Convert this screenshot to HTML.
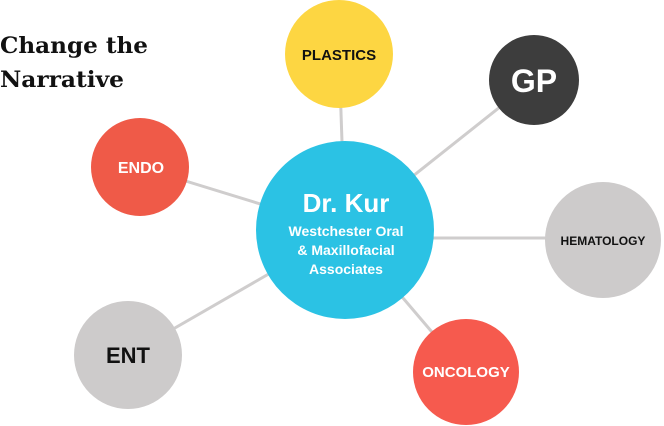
<!DOCTYPE html>
<html><head><style>
html,body{margin:0;padding:0;background:#fff;width:664px;height:426px;overflow:hidden}
</style></head><body>
<svg width="664" height="426" viewBox="0 0 664 426" xmlns="http://www.w3.org/2000/svg">
<g stroke="#cfcdcd" stroke-width="3">
<line x1="345" y1="230" x2="339" y2="54"/>
<line x1="345" y1="230" x2="534" y2="80"/>
<line x1="345" y1="230" x2="140" y2="167"/>
<line x1="345" y1="238" x2="603" y2="238"/>
<line x1="345" y1="230" x2="128" y2="355"/>
<line x1="345" y1="230" x2="466" y2="372"/>
</g>
<circle cx="339" cy="54" r="54" fill="#fdd642"/>
<circle cx="534" cy="80" r="45" fill="#3d3d3d"/>
<circle cx="140" cy="167" r="49" fill="#ef5a48"/>
<circle cx="603" cy="240" r="58" fill="#cdcbcb"/>
<circle cx="128" cy="355" r="54" fill="#cdcbcb"/>
<circle cx="466" cy="372" r="53" fill="#f65a4e"/>
<circle cx="345" cy="230" r="89" fill="#2bc2e4"/>
<g font-family="Liberation Sans, sans-serif" font-weight="bold" text-anchor="middle">
<text x="339" y="60" font-size="15" fill="#111">PLASTICS</text>
<text x="534" y="92" font-size="32" fill="#fff">GP</text>
<text x="141" y="173" font-size="16" fill="#fff">ENDO</text>
<text x="603" y="245" font-size="12" fill="#111">HEMATOLOGY</text>
<text x="128" y="363" font-size="22" fill="#111">ENT</text>
<text x="466" y="377" font-size="15" fill="#fff">ONCOLOGY</text>
<text x="346" y="212" font-size="26" fill="#fff">Dr. Kur</text>
<text x="346" y="236" font-size="14" fill="#fff">Westchester Oral</text>
<text x="346" y="255" font-size="14" fill="#fff">&amp; Maxillofacial</text>
<text x="346" y="274" font-size="14" fill="#fff">Associates</text>
</g>
<g font-family="DejaVu Serif, serif" font-weight="bold" font-size="22" fill="#111">
<text x="0" y="53" textLength="148" lengthAdjust="spacingAndGlyphs">Change the</text>
<text x="0" y="87" textLength="124" lengthAdjust="spacingAndGlyphs">Narrative</text>
</g>
</svg>
</body></html>
